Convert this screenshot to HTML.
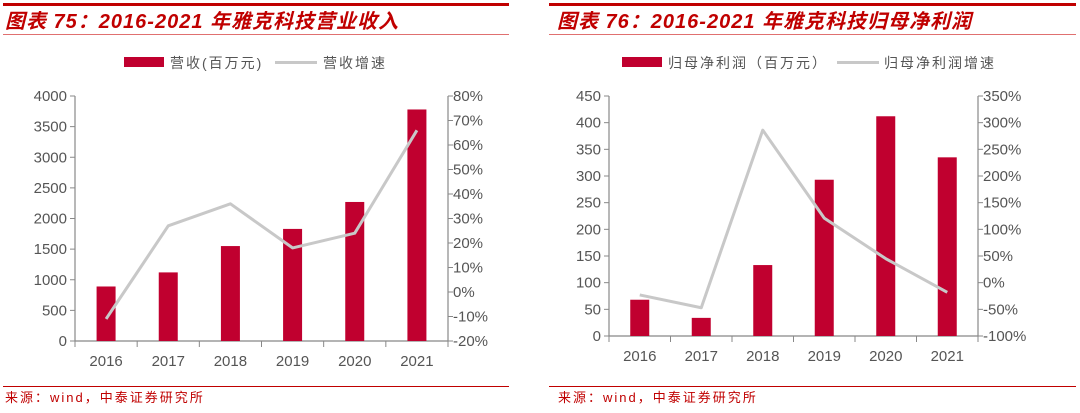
<!DOCTYPE html>
<html><head><meta charset="utf-8"><style>
body{margin:0;background:#fff;width:1080px;height:413px;overflow:hidden}
svg{display:block;font-family:"Liberation Sans","Noto Sans CJK SC",sans-serif}
</style></head><body>
<svg id="s" width="1080" height="413">
<g>
<rect x="3" y="3" width="506" height="3" fill="#c00000"/>
<text x="5" y="28" font-size="20" font-weight="bold" font-style="italic" fill="#c00000" letter-spacing="1">图表 75：2016-2021 年雅克科技营业收入</text>
<rect x="3" y="34" width="506" height="1" fill="#e07070"/>
</g>
<g>
<rect x="549" y="3" width="527" height="3" fill="#c00000"/>
<text x="557" y="28" font-size="20" font-weight="bold" font-style="italic" fill="#c00000" letter-spacing="1">图表 76：2016-2021 年雅克科技归母净利润</text>
<rect x="549" y="34" width="527" height="1" fill="#e07070"/>
</g>
<g>
<rect x="124" y="57" width="40" height="10" fill="#c0002f"/>
<text x="170" y="68" font-size="14" fill="#555" letter-spacing="2">营收(百万元)</text>
<rect x="275" y="61" width="42" height="3" fill="#c8c8c8"/>
<text x="323" y="68" font-size="14" fill="#555" letter-spacing="2">营收增速</text>
</g>
<g>
<rect x="622" y="57" width="40" height="10" fill="#c0002f"/>
<text x="668" y="68" font-size="14" fill="#555" letter-spacing="2">归母净利润（百万元）</text>
<rect x="837" y="61" width="42" height="3" fill="#c8c8c8"/>
<text x="884" y="68" font-size="14" fill="#555" letter-spacing="2">归母净利润增速</text>
</g>
<g>
<rect x="3" y="386" width="506" height="1" fill="#c00000"/>
<text x="5" y="402" font-size="13" fill="#c00000" letter-spacing="2">来源：wind，中泰证券研究所</text>
</g>
<g>
<rect x="549" y="386" width="527" height="1" fill="#c00000"/>
<text x="558" y="402" font-size="13" fill="#c00000" letter-spacing="2">来源：wind，中泰证券研究所</text>
</g>
<g id="c1"></g>
<g id="c2"></g>
</svg>
<script>
const categories = ["2016","2017","2018","2019","2020","2021"];
const revenue = [890, 1120, 1550, 1830, 2270, 3780];
const revenueGrowth = [-11, 27, 36, 18, 24, 66];
const revTicks = [0,500,1000,1500,2000,2500,3000,3500,4000];
const revPctTicks = [-20,-10,0,10,20,30,40,50,60,70,80];
const profit = [68, 34, 133, 293, 412, 335];
const profitGrowth = [-23, -47, 286, 121, 45, -18];
const profitTicks = [0,50,100,150,200,250,300,350,400,450];
const profitPctTicks = [-100,-50,0,50,100,150,200,250,300,350];

const NS="http://www.w3.org/2000/svg";
function mk(parent,tag,attrs){const e=document.createElementNS(NS,tag);for(const k in attrs)e.setAttribute(k,attrs[k]);parent.appendChild(e);return e;}
function draw(g,cfg){
  const {x0,x1,yTop,yBot,lt,rt,bars,line,cats}=cfg;
  const lmin=lt[0],lmax=lt[lt.length-1],rmin=rt[0],rmax=rt[rt.length-1];
  const yl=v=>yBot-(v-lmin)/(lmax-lmin)*(yBot-yTop);
  const yr=v=>yBot-(v-rmin)/(rmax-rmin)*(yBot-yTop);
  const bw=(x1-x0)/cats.length;
  const xc=i=>x0+bw*(i+0.5);
  const ax=mk(g,'path',{d:`M${x0} ${yTop}V${yBot}H${x1}V${yTop}`,stroke:'#888',fill:'none','stroke-width':1.2});
  
  
  lt.forEach(v=>{const y=yl(v);
    mk(g,'line',{x1:x0-5,x2:x0,y1:y,y2:y,stroke:'#888'});
    const t=mk(g,'text',{x:x0-8,y:y+5,'text-anchor':'end','font-size':15,fill:'#555'});t.textContent=v;
    
    });
  rt.forEach(v=>{const y=yr(v);
    mk(g,'line',{x1:x1,x2:x1+5,y1:y,y2:y,stroke:'#888'});
    const t=mk(g,'text',{x:x1+5,y:y+5,'font-size':15,fill:'#555'});t.textContent=v+'%';
    
    });
  for(let i=0;i<=cats.length;i++){const x=x0+bw*i;mk(g,'line',{x1:x,x2:x,y1:yBot,y2:yBot+6,stroke:'#888'});}
  cats.forEach((c,i)=>{const t=mk(g,'text',{x:xc(i),y:yBot+25,'text-anchor':'middle','font-size':15,fill:'#555'});t.textContent=c;
    
    });
  bars.forEach((v,i)=>{const r=mk(g,'rect',{x:xc(i)-9.5,y:yl(v),width:19,height:yBot-yl(v),fill:'#c0002f'});
    
    });
  const p=mk(g,'polyline',{points:line.map((v,i)=>xc(i)+','+yr(v)).join(' '),fill:'none',stroke:'#c8c8c8','stroke-width':3,'stroke-linejoin':'round'});
  
  
}
draw(document.getElementById('c1'),{x0:75,x1:448,yTop:96,yBot:341,lt:revTicks,rt:revPctTicks,bars:revenue,line:revenueGrowth,cats:categories});
draw(document.getElementById('c2'),{x0:609,x1:978,yTop:96,yBot:336,lt:profitTicks,rt:profitPctTicks,bars:profit,line:profitGrowth,cats:categories});
</script>
</body></html>
